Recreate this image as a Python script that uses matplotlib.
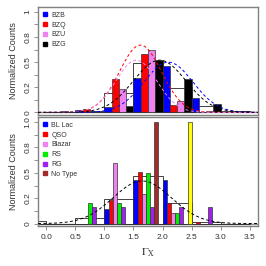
import numpy as np
import matplotlib
matplotlib.use("Agg")
from matplotlib import pyplot as plt
from matplotlib.lines import Line2D

plt.rcParams['font.family'] = ['Liberation Sans', 'DejaVu Sans']
plt.rcParams['mathtext.fontset'] = 'stix'

# bins (left edges), width 0.5
bin_left = [0.0, 0.5, 1.0, 1.5, 2.0, 2.5, 3.0]

# top panel: classes
top_names = ["BZB", "BZQ", "BZU", "BZG"]
top_colors = ["#0000FF", "#FF0000", "#EE82EE", "#000000"]
bzb = [0.0, 0.02, 0.05, 0.34, 0.465, 0.14, 0.0]
bzq = [0.0, 0.03, 0.33, 0.58, 0.07, 0.005, 0.0]
bzu = [0.01, 0.005, 0.235, 0.62, 0.11, 0.01, 0.0]
bzg = [0.0, 0.005, 0.06, 0.52, 0.33, 0.08, 0.01]
top_all = [0.005, 0.015, 0.19, 0.49, 0.245, 0.06, 0.01]
# gaussian fits (mean, sigma, peak)
top_fits = [(2.10, 0.42, 0.50), (1.62, 0.36, 0.67), (1.55, 0.35, 0.52), (1.95, 0.45, 0.52)]

# bottom panel: source types
bot_names = ["BL Lac", "QSO", "Blazar", "RS", "RG", "No Type"]
bot_colors = ["#0000FF", "#FF0000", "#EE82EE", "#00EE00", "#A020F0", "#A52A2A", "#FFFF00"]
bllac = [0.0, 0.0, 0.14, 0.43, 0.43, 0.0, 0.0]
qso = [0.0, 0.0, 0.23, 0.51, 0.20, 0.02, 0.0]
blazar = [0.0, 0.0, 0.60, 0.29, 0.10, 0.0, 0.0]
rs = [0.0, 0.20, 0.20, 0.50, 0.10, 0.0, 0.0]
rg = [0.0, 0.16, 0.16, 0.16, 0.16, 0.16, 0.0]
notype = [0.0, 0.0, 0.0, 1.0, 0.0, 0.0, 0.0]
other = [0.0, 0.0, 0.0, 0.0, 1.0, 0.0, 0.0]
bot_all_left = [-0.5, 0.0, 0.5, 1.0, 1.5, 2.0, 2.5, 3.0]
bot_all = [0.03, 0.0, 0.05, 0.24, 0.47, 0.20, 0.02, 0.0]
bot_fit = (1.65, 0.50, 0.42)

frame_col = "#808080"
text_col = "#333333"


def style_axis(ax, labels):
    ax.set_xlim(-0.14, 3.64)
    ax.set_ylim(-0.025, 1.05)
    ax.set_yticks([0, 0.25, 0.5, 0.75, 1.0])
    ax.set_yticklabels(labels, rotation=90, va="center")
    ax.set_yticks(np.arange(0, 1.01, 0.125), minor=True)
    ax.tick_params(axis="y", which="both", length=3, width=0.6, color=frame_col,
                   labelsize=6, labelcolor=text_col, pad=1.5)
    ax.tick_params(axis="x", length=3, width=0.6, color=frame_col,
                   labelsize=6, labelcolor=text_col, pad=2.5)
    for s in ax.spines.values():
        s.set_color(frame_col)
        s.set_linewidth(1.0)
    ax.axhline(0, color="#909090", lw=1.0, zorder=1)
    ax.set_ylabel("Normalized Counts", fontsize=6.5, color=text_col, labelpad=5)


fig = plt.figure(figsize=(2.66, 2.66), dpi=100)
ax1 = fig.add_axes([0.143, 0.568, 0.827, 0.406])
ax2 = fig.add_axes([0.143, 0.150, 0.827, 0.410])

xs = np.linspace(-0.14, 3.64, 300)

# top panel
w = 0.125
ax1.bar(bin_left, top_all, width=0.5, align="edge", color="white",
        edgecolor="#222222", lw=0.6, zorder=2)
for i, vals in enumerate([bzb, bzq, bzu, bzg]):
    ax1.bar(np.array(bin_left) + i * w, vals, width=w, align="edge",
            color=top_colors[i], edgecolor="#333333", lw=0.5, zorder=3)
for (m, s, a), c in zip(top_fits, top_colors):
    ax1.plot(xs, a * np.exp(-0.5 * ((xs - m) / s) ** 2), color=c, lw=0.7,
             ls=(0, (3, 2.5)), zorder=4)
style_axis(ax1, ["0", "0.2", "0.5", "0.8", "1"])
ax1.set_xticks([])
h1 = [Line2D([], [], marker="s", ls="", color=c, markersize=2.5) for c in top_colors]
ax1.legend(h1, top_names, loc="upper left", fontsize=5, frameon=False,
           handlelength=0.6, handletextpad=0.6, labelspacing=0.4,
           borderaxespad=0.3, labelcolor=text_col)

# bottom panel
w2 = 0.5 / 7
ax2.bar(bot_all_left, bot_all, width=0.5, align="edge", color="white",
        edgecolor="#222222", lw=0.6, zorder=2)
for i, vals in enumerate([bllac, qso, blazar, rs, rg, notype, other]):
    ax2.bar(np.array(bin_left) + i * w2, vals, width=w2, align="edge",
            color=bot_colors[i], edgecolor="#333333", lw=0.5, zorder=3)
m, s, a = bot_fit
ax2.plot(xs, a * np.exp(-0.5 * ((xs - m) / s) ** 2), color="black", lw=0.7,
         ls=(0, (3, 2.5)), zorder=4)
style_axis(ax2, ["0", "0.2", "0.5", "0.8", "1.0"])
ax2.set_xticks([0, 0.5, 1.0, 1.5, 2.0, 2.5, 3.0, 3.5])
ax2.set_xticklabels(["0.0", "0.5", "1.0", "1.5", "2.0", "2.5", "3.0", "3.5"])
ax2.set_xlabel(r"$\Gamma_{\rm X}$", fontsize=8, color=text_col, labelpad=4)
h2 = [Line2D([], [], marker="s", ls="", color=c, markersize=2.5) for c in bot_colors[:6]]
ax2.legend(h2, bot_names, loc="upper left", fontsize=5, frameon=False,
           handlelength=0.6, handletextpad=0.6, labelspacing=0.4,
           borderaxespad=0.3, labelcolor=text_col)

fig.savefig("out.png", dpi=100)
